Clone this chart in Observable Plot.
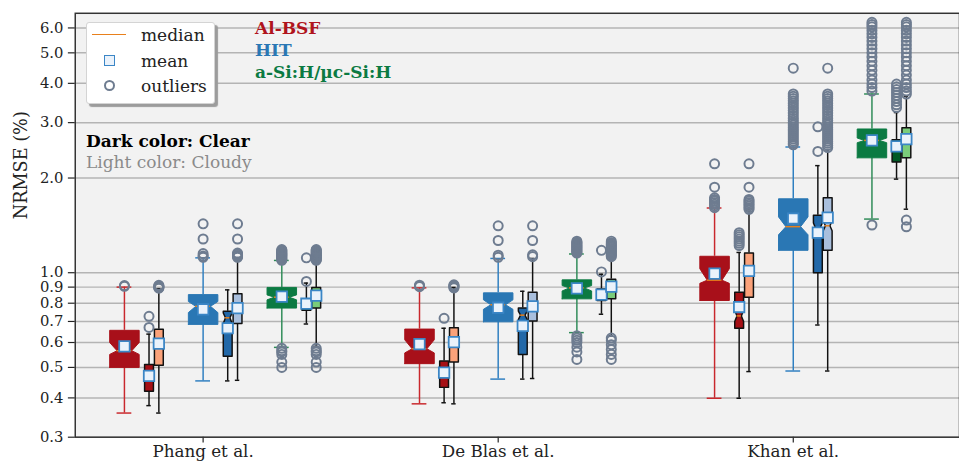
<!DOCTYPE html>
<html><head><meta charset="utf-8">
<script src="https://cdn.jsdelivr.net/npm/d3@7"></script>
<script src="https://cdn.jsdelivr.net/npm/@observablehq/plot@0.6"></script>
<style>
html,body{margin:0;padding:0;background:#fff;overflow:hidden;}
#wrap{position:relative;width:959px;height:472px;overflow:hidden;font-family:"DejaVu Serif",serif;}
.ov{position:absolute;white-space:nowrap;font-size:17px;line-height:20px;font-family:"DejaVu Serif",serif;}
</style></head><body><div id="wrap"></div>
<script>
// ---------- data ----------
const studies = ["Phang et al.", "De Blas et al.", "Khan et al."];
const techs = ["Al-BSF", "HIT", "a-Si:H/µc-Si:H"];
const variants = ["all", "clear", "cloudy"];
const yTicks = [0.3, 0.4, 0.5, 0.6, 0.7, 0.8, 0.9, 1.0, 2.0, 3.0, 4.0, 5.0, 6.0];
const yLabel = "NRMSE (%)";

// order: study > tech > variant (all, clear, cloudy)
const whiskerLo = [0.358,0.378,0.358, 0.453,0.453,0.455, 0.579,0.687,0.583,
                   0.383,0.386,0.383, 0.459,0.459,0.461, 0.645,0.738,0.630,
                   0.399,0.399,0.485, 0.487,0.682,0.487, 1.481,1.984,1.592];
const q1 = [0.500,0.420,0.508, 0.685,0.543,0.690, 0.772,0.760,0.772,
            0.514,0.432,0.520, 0.698,0.550,0.702, 0.826,0.816,0.826,
            0.816,0.666,0.836, 1.178,1.000,1.178, 2.319,2.250,2.320];
const notchLo = [0.550,0.450,0.570, 0.747,0.690,0.750, 0.820,0.785,0.820,
                 0.556,0.465,0.580, 0.765,0.710,0.765, 0.875,0.840,0.875,
                 0.925,0.700,0.970, 1.320,1.330,1.360, 2.590,2.450,2.550];
const median = [0.565,0.465,0.590, 0.782,0.719,0.770, 0.836,0.795,0.835,
                0.573,0.480,0.600, 0.791,0.733,0.780, 0.895,0.850,0.890,
                0.947,0.729,1.000, 1.401,1.384,1.410, 2.634,2.500,2.600];
const notchHi = [0.600,0.480,0.610, 0.810,0.745,0.790, 0.850,0.805,0.850,
                 0.612,0.495,0.620, 0.820,0.755,0.800, 0.910,0.860,0.905,
                 1.030,0.760,1.030, 1.505,1.440,1.460, 2.680,2.550,2.650];
const q3 = [0.656,0.511,0.661, 0.852,0.754,0.857, 0.898,0.822,0.898,
            0.662,0.524,0.669, 0.863,0.772,0.867, 0.949,0.888,0.954,
            1.128,0.867,1.155, 1.718,1.524,1.730, 2.864,2.647,2.890];
const whiskerHi = [0.900,0.638,0.890, 1.115,0.882,1.115, 1.094,0.927,1.090,
                   0.895,0.666,0.898, 1.110,0.873,1.110, 1.147,0.989,1.115,
                   1.606,1.160,1.580, 2.510,2.190,2.460, 3.700,3.230,3.640];
const mean = [0.583,0.470,0.595, 0.765,0.666,0.772, 0.840,0.797,0.846,
              0.593,0.481,0.602, 0.774,0.678,0.782, 0.892,0.852,0.903,
              0.994,0.778,1.013, 1.487,1.341,1.497, 2.634,2.520,2.660];
const outliers = [
  // Phang et al.
  [0.905, 0.91],
  [0.727, 0.67],
  [0.893, 0.897, 0.90, 0.904, 0.908, 0.912],
  [1.43, 1.28, 1.15, 1.13, 1.12],
  [],
  [1.43, 1.28, 1.155, 1.145, 1.135, 1.125, 1.12],
  [1.095, 1.10, 1.106, 1.112, 1.118, 1.124, 1.13, 1.136, 1.142, 1.148, 1.154, 1.16, 1.166, 1.172, 1.178, 1.185,
   0.575, 0.565, 0.56, 0.55, 0.52, 0.50],
  [1.115, 0.938],
  [1.095, 1.10, 1.106, 1.112, 1.118, 1.124, 1.13, 1.136, 1.142, 1.148, 1.154, 1.16, 1.166, 1.172, 1.178, 1.185,
   0.575, 0.565, 0.56, 0.55, 0.52, 0.50],
  // De Blas et al.
  [0.903, 0.908, 0.913],
  [0.716],
  [0.895, 0.90, 0.905, 0.91, 0.915],
  [1.41, 1.266, 1.137, 1.12],
  [],
  [1.41, 1.266, 1.14, 1.125],
  [1.155, 1.162, 1.17, 1.178, 1.186, 1.194, 1.202, 1.21, 1.218, 1.226, 1.234, 1.242, 1.25, 1.26,
   0.63, 0.62, 0.61, 0.60, 0.58, 0.56, 0.53],
  [1.178, 1.006],
  [1.125, 1.135, 1.145, 1.155, 1.165, 1.175, 1.185, 1.195, 1.205, 1.215, 1.225, 1.235, 1.245, 1.26,
   0.62, 0.61, 0.59, 0.57, 0.55, 0.53],
  // Khan et al.
  [2.22, 1.87, 1.73, 1.71, 1.69, 1.67, 1.65, 1.63, 1.61],
  [1.34, 1.32, 1.30, 1.28, 1.26, 1.24, 1.22],
  [2.22, 1.87, 1.71, 1.69, 1.67, 1.65, 1.63, 1.61, 1.59],
  [4.47, 3.70, 3.64, 3.58, 3.52, 3.46, 3.40, 3.34, 3.28, 3.22, 3.16, 3.10, 3.05, 3.00, 2.95, 2.90, 2.86,
   2.82, 2.78, 2.74, 2.70, 2.66, 2.62, 2.58, 2.55],
  [2.91, 2.43],
  [4.47, 3.70, 3.64, 3.58, 3.52, 3.46, 3.40, 3.34, 3.28, 3.22, 3.16, 3.10, 3.05, 3.00, 2.95, 2.90, 2.86,
   2.82, 2.78, 2.74, 2.70, 2.66, 2.62, 2.58, 2.54, 2.50],
  [6.25, 6.15, 6.05, 5.9, 5.75, 5.6, 5.45, 5.3, 5.15, 5.0, 4.85, 4.7, 4.55, 4.4, 4.25, 4.1, 3.98, 3.88, 3.78, 1.418],
  [3.98, 3.9, 3.82, 3.74, 3.66, 3.58, 3.5, 3.42, 3.35],
  [6.25, 6.15, 6.05, 5.9, 5.75, 5.6, 5.45, 5.3, 5.15, 5.0, 4.85, 4.7, 4.55, 4.4, 4.25, 4.1, 3.98, 3.88, 3.78, 3.7,
   1.47, 1.40]
];

// ---------- styles ----------
const boxColors = [["#a8101a","#a50f15","#fba27a"], ["#2a77b4","#2268a8","#a9bfdd"], ["#0b7a42","#005a26","#7acc7a"]];
const whiskerColors = ["#c9282d", "#2f7fc1", "#2e8b57"];
const px = 1 / 300;               // x units per pixel (one study = 300 px)
const techOffset = [-80, 0, 80];
const variantOffset = [0, 25, 35];
const boxWidth = [30, 9, 9];

// ---------- table ----------
const boxes = [];
studies.forEach((s, si) => techs.forEach((t, ti) => variants.forEach((v, vi) => {
  const i = si * 9 + ti * 3 + vi;
  boxes.push({
    id: i, study: s, tech: t, variant: v,
    x: si + (techOffset[ti] + variantOffset[vi]) * px,
    w: boxWidth[vi] * px,
    lo: whiskerLo[i], q1: q1[i], cilo: notchLo[i], med: median[i], cihi: notchHi[i],
    q3: q3[i], hi: whiskerHi[i], mean: mean[i],
    fill: boxColors[ti][vi],
    edge: vi === 0 ? boxColors[ti][vi] : "#111",
    whisker: vi === 0 ? whiskerColors[ti] : "#111",
    big: vi === 0
  });
})));

function poly(b) {
  const L = b.x - b.w / 2, R = b.x + b.w / 2, q = b.w / 4;
  return [[L,b.q1],[R,b.q1],[R,b.cilo],[R-q,b.med],[R,b.cihi],[R,b.q3],[L,b.q3],[L,b.cihi],[L+q,b.med],[L,b.cilo],[L,b.q1]]
    .map(([x, y]) => ({id: b.id, x, y, fill: b.fill, stroke: b.edge, big: b.big}));
}
const polys = boxes.flatMap(poly);
const outPts = boxes.flatMap(b => outliers[b.id].map(v => ({x: b.x, y: v})));

const W = 975, ML = 76;
const xL = (ML - 206) * px;
const fmt = d3.format(".1f");
const chart = Plot.plot({
  width: W, height: 472,
  marginLeft: ML, marginRight: 0, marginTop: 13, marginBottom: 28,
  style: {fontFamily: "'DejaVu Serif', serif", color: "#222", background: "transparent", overflow: "visible"},
  color: {type: "identity"},
  x: {domain: [xL, (W - 206) * px], axis: null},
  y: {type: "log", domain: [0.3, 6.68], axis: null},
  marks: [
    Plot.frame({fill: "#f2f2f2", stroke: "none"}),
    Plot.ruleY(yTicks, {stroke: "#b4b4b4", strokeWidth: 1.5}),
    // axes (tick marks and labels)
    Plot.ruleY(yTicks, {y: d => d, x1: xL - 7 * px, x2: xL, stroke: "#222", strokeWidth: 1.2}),
    Plot.text(yTicks, {y: d => d, text: d => fmt(d), frameAnchor: "left", dx: -12, textAnchor: "end", fontSize: 15, fontFamily: "DejaVu Serif", fill: "#222"}),
    Plot.ruleX([0, 1, 2], {x: d => d, y1: 0.3, y2: 0.3 * Math.pow(10, -6 / 319.7), stroke: "#222", strokeWidth: 1.2}),
    Plot.text(studies, {x: (d, i) => i, text: d => d, frameAnchor: "bottom", dy: 20, fontSize: 17, fontFamily: "DejaVu Serif", fill: "#222"}),
    Plot.text([yLabel], {text: d => d, frameAnchor: "left", dx: -55, dy: -6, rotate: -90, fontSize: 18, fontFamily: "DejaVu Serif", fill: "#222"}),
    // boxes
    Plot.ruleX(boxes, {x: "x", y1: "q3", y2: "hi", stroke: "whisker", strokeWidth: 1.5}),
    Plot.ruleX(boxes, {x: "x", y1: "q1", y2: "lo", stroke: "whisker", strokeWidth: 1.5}),
    Plot.ruleY(boxes, {y: "hi", x1: d => d.x - d.w / 4, x2: d => d.x + d.w / 4, stroke: "whisker", strokeWidth: 1.5}),
    Plot.ruleY(boxes, {y: "lo", x1: d => d.x - d.w / 4, x2: d => d.x + d.w / 4, stroke: "whisker", strokeWidth: 1.5}),
    Plot.line(polys.filter(d => d.big), {x: "x", y: "y", z: "id", fill: "fill", stroke: "stroke", strokeWidth: 1, curve: "linear"}),
    Plot.line(polys.filter(d => !d.big), {x: "x", y: "y", z: "id", fill: "fill", stroke: "stroke", strokeWidth: 1.5, curve: "linear"}),
    Plot.ruleY(boxes, {y: "med", x1: d => d.x - d.w / 4, x2: d => d.x + d.w / 4, stroke: "#e8801c", strokeWidth: 1.5}),
    Plot.dot(outPts, {x: "x", y: "y", r: 4.6, fill: "none", stroke: "#6e7c90", strokeWidth: 2}),
    Plot.dot(boxes, {x: "x", y: "mean", symbol: "square", r: 6, fill: "#eaf2fb", stroke: "#3b86c6", strokeWidth: 1.8}),
    Plot.frame({stroke: "#333", strokeWidth: 1.5})
  ]
});
const wrap = document.getElementById("wrap");
wrap.appendChild(chart);

// ---------- in-plot annotations / legend ----------
const techColors = ["#b0141d", "#2a77b4", "#0b7a42"];
function addText(txt, left, cy, css) {
  const d = document.createElement("div");
  d.className = "ov"; d.textContent = txt;
  d.style.left = left + "px"; d.style.top = (cy - 10) + "px";
  Object.assign(d.style, css || {});
  wrap.appendChild(d);
}
function addBox(css) {
  const d = document.createElement("div");
  d.style.position = "absolute"; d.style.boxSizing = "border-box";
  Object.assign(d.style, css); wrap.appendChild(d);
}
techs.forEach((t, i) => addText(t, 255, 28 + 22 * i, {fontWeight: "bold", color: techColors[i]}));
addText("Dark color: Clear", 86, 141, {fontWeight: "bold", color: "#000"});
addText("Light color: Cloudy", 86, 162, {color: "#8a8a8a"});

addBox({left: "86px", top: "22px", width: "129px", height: "82px", background: "#fff", border: "1px solid #d4d4d4",
        borderRadius: "3px", boxShadow: "3px 3px 1px #9c9c9c"});
addBox({left: "92px", top: "34px", width: "34px", height: "0", borderTop: "1.5px solid #e8801c"});
addBox({left: "104px", top: "55px", width: "11px", height: "11px", background: "#eaf2fb", border: "1.8px solid #3b86c6"});
addBox({left: "104px", top: "80px", width: "11px", height: "11px", borderRadius: "50%", border: "2px solid #6e7c90"});
const legendLabels = ["median", "mean", "outliers"];
legendLabels.forEach((t, i) => addText(t, 141, [35, 61, 86][i], {color: "#222"}));
</script></body></html>
